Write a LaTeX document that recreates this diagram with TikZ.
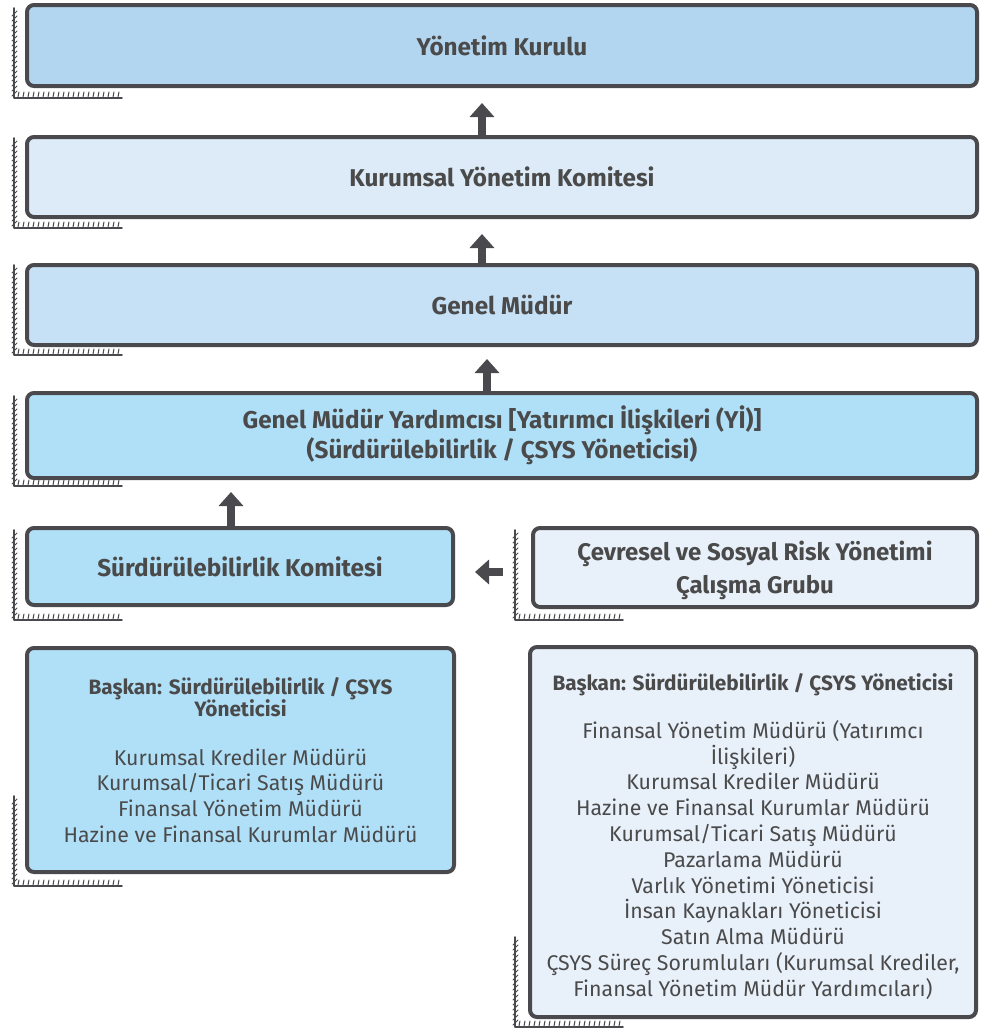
\documentclass[tikz,border=0pt]{standalone}
\usepackage{fontspec}
\setmainfont{Fira Sans}
\usetikzlibrary{arrows.meta}
\definecolor{bord}{HTML}{4A4A4E}
\definecolor{txt}{HTML}{4A4A4A}
\definecolor{cA}{HTML}{B3D6F0}
\definecolor{cB}{HTML}{DDEBF8}
\definecolor{cC}{HTML}{C6E0F5}
\definecolor{cD}{HTML}{B0E0F8}
\definecolor{cE}{HTML}{E8F0FA}
\newcommand{\hatchmark}[2]{%
  \draw[hatchline] (#1,#2-90) -- (#1,#2) -- (#1+108,#2);
  \foreach \i in {0,...,16} \draw[hatchtick] (#1-2,#2-82+\i*5) -- (#1+3,#2-87+\i*5);
  \foreach \i in {0,...,20} \draw[hatchtick] (#1+4+\i*5,#2-1) -- (#1+5+\i*5,#2-6);
}
\begin{document}
\begin{tikzpicture}[x=1pt,y=-1pt,
  box/.style={draw=bord, line width=4pt, rounded corners=7pt, align=center,
    text=txt, inner sep=0pt, font=\fontsize{21.3}{25.8}\selectfont},
  title/.style={font=\bfseries\fontsize{24.3}{30}\selectfont},
  blockarrow/.style={draw=bord, line width=8pt, -{Triangle[width=24pt,length=14pt]}},
  hatchline/.style={draw=bord, line width=1.6pt, line cap=round, line join=round},
  hatchtick/.style={draw=bord, line width=1pt, line cap=round}]
\useasboundingbox (0,0) rectangle (991,1031);

% hatching
\hatchmark{14}{98}
\hatchmark{14}{228}
\hatchmark{14}{355}
\hatchmark{14}{486}
\hatchmark{14}{620}
\hatchmark{515}{620}
\hatchmark{14}{886}
\hatchmark{515}{1027}

\node[box, title, fill=cA, minimum width=950pt, minimum height=81pt] (b1) at (502,45.5) {Yönetim Kurulu};
\node[box, title, fill=cB, minimum width=950pt, minimum height=80pt] (b2) at (502,177) {Kurumsal Yönetim Komitesi};
\node[box, title, fill=cC, minimum width=950pt, minimum height=80pt] (b3) at (502,305) {Genel Müdür};
\node[box, title, fill=cD, minimum width=950pt, minimum height=85pt] (b4) at (502,435.5) {\rule{0pt}{21pt}Genel Müdür Yardımcısı [Yatırımcı İlişkileri (Yİ)]\\(Sürdürülebilirlik / ÇSYS Yöneticisi)};
\node[box, title, fill=cD, minimum width=426pt, minimum height=77pt] (b5) at (240,566.5) {Sürdürülebilirlik Komitesi};
\node[box, title, fill=cE, minimum width=444pt, minimum height=79pt, font=\bfseries\fontsize{24}{33}\selectfont] (b6) at (755,567.5) {\rule{0pt}{26pt}Çevresel ve Sosyal Risk Yönetimi\\Çalışma Grubu};

\node[box, fill=cD, minimum width=427pt, minimum height=224pt] (b7) at (240.5,760) {%
\textbf{\fontsize{20.8}{22}\selectfont Başkan: Sürdürülebilirlik / ÇSYS}\\[-3.8pt]
\textbf{\fontsize{20.8}{22}\selectfont Yöneticisi}\\[23pt]
Kurumsal Krediler Müdürü\\
Kurumsal/Ticari Satış Müdürü\\
Finansal Yönetim Müdürü\\
Hazine ve Finansal Kurumlar Müdürü};

\node[box, fill=cE, minimum width=446pt, minimum height=370pt] (b8) at (753,832) {%
\rule{0pt}{26pt}\textbf{\fontsize{20.8}{22}\selectfont Başkan: Sürdürülebilirlik / ÇSYS Yöneticisi}\\[22pt]
Finansal Yönetim Müdürü (Yatırımcı\\
İlişkileri)\\
Kurumsal Krediler Müdürü\\
Hazine ve Finansal Kurumlar Müdürü\\
Kurumsal/Ticari Satış Müdürü\\
Pazarlama Müdürü\\
Varlık Yönetimi Yöneticisi\\
İnsan Kaynakları Yöneticisi\\
Satın Alma Müdürü\\
ÇSYS Süreç Sorumluları (Kurumsal Krediler,\\
Finansal Yönetim Müdür Yardımcıları)};

% arrow targets
\coordinate (t4) at (b5.north |- b4.south);
\coordinate (t5) at (b5.east |- b6.west);

% arrows
\draw[blockarrow] ([xshift=-20pt]b2.north) -- ([xshift=-20pt,yshift=-15pt]b1.south);
\draw[blockarrow] ([xshift=-20pt]b3.north) -- ([xshift=-20pt,yshift=-15pt]b2.south);
\draw[blockarrow] ([xshift=-15pt]b4.north) -- ([xshift=-15pt,yshift=-12pt]b3.south);
\draw[blockarrow] ([xshift=-9pt]b5.north) -- ([xshift=-9pt,yshift=-12pt]t4);
\draw[blockarrow] ([xshift=-28pt,yshift=-4.5pt]b6.west) -- ([xshift=20pt,yshift=-4.5pt]t5);
\end{tikzpicture}
\end{document}
